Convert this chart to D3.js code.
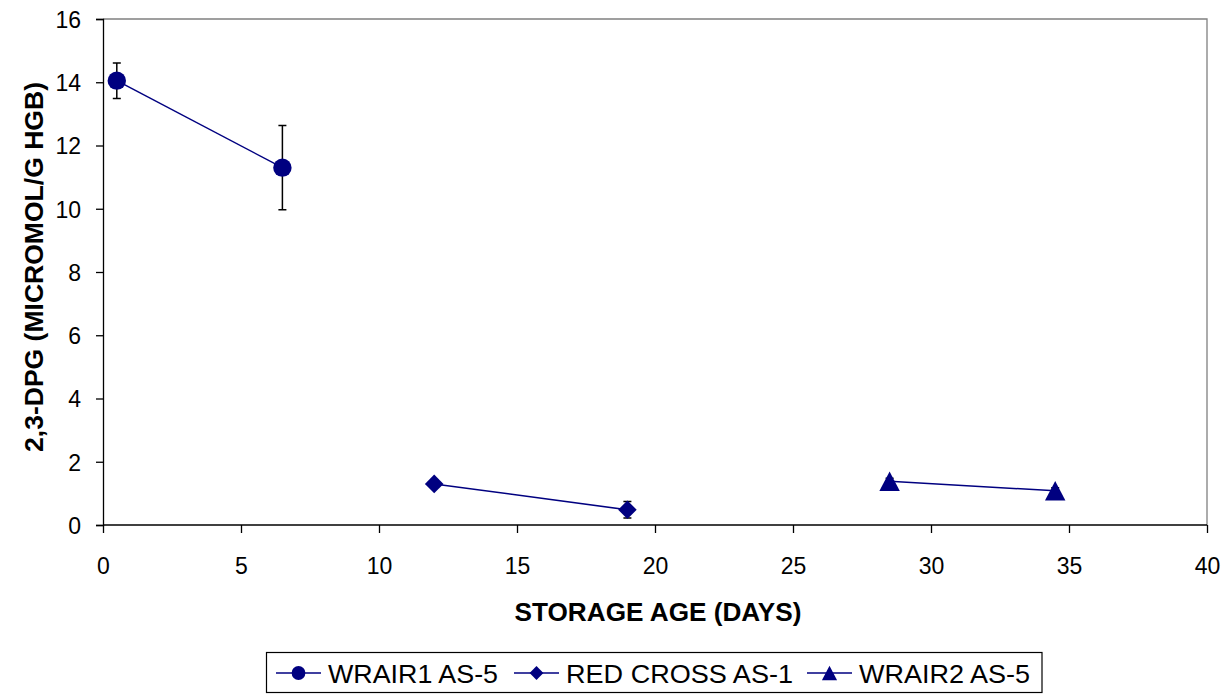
<!DOCTYPE html>
<html><head><meta charset="utf-8">
<script src="https://cdn.jsdelivr.net/npm/d3@7"></script>
<style>body{margin:0;background:#fff;}svg{display:block;}</style>
</head><body>
<script>
const seriesNames = ["WRAIR1 AS-5", "RED CROSS AS-1", "WRAIR2 AS-5"];
const seriesMarkers = ["circle", "diamond", "triangle"];
const wrair1X = [0.5, 6.5];
const wrair1Y = [14.05, 11.3];
const wrair1Err = [0.56, 1.33];
const redCrossX = [12, 19];
const redCrossY = [1.3, 0.48];
const redCrossErr = [0.1, 0.26];
const wrair2X = [28.5, 34.5];
const wrair2Y = [1.38, 1.08];
const wrair2Err = [0.1, 0.1];
const xTicks = [0, 5, 10, 15, 20, 25, 30, 35, 40];
const yTicks = [0, 2, 4, 6, 8, 10, 12, 14, 16];
const xTitle = "STORAGE AGE (DAYS)";
const yTitle = "2,3-DPG (MICROMOL/G HGB)";

const series = [
  {name: seriesNames[0], marker: seriesMarkers[0], x: wrair1X, y: wrair1Y, e: wrair1Err},
  {name: seriesNames[1], marker: seriesMarkers[1], x: redCrossX, y: redCrossY, e: redCrossErr},
  {name: seriesNames[2], marker: seriesMarkers[2], x: wrair2X, y: wrair2Y, e: wrair2Err}
];

const W = 1231, H = 694;
const color = "#000080";
const svg = d3.select("body").append("svg").attr("width", W).attr("height", H);
const L = 103, R = 1207, T = 19, B = 525;
const x = d3.scaleLinear().domain([0, 40]).range([L, R]);
const y = d3.scaleLinear().domain([0, 16]).range([B, T]);

// plot border (top/right gray)
svg.append("path").attr("d", `M${L},${T}H${R}V${B}`).attr("fill","none").attr("stroke","#808080").attr("stroke-width",1.3);

const xAxis = svg.append("g").attr("transform", `translate(0,${B})`)
  .call(d3.axisBottom(x).tickValues(xTicks).tickSize(8).tickPadding(22).tickFormat(d3.format("d")));
const yAxis = svg.append("g").attr("transform", `translate(${L},0)`)
  .call(d3.axisLeft(y).tickValues(yTicks).tickSize(7).tickPadding(15).tickFormat(d3.format("d")));
[xAxis, yAxis].forEach(g => {
  g.selectAll("path,line").attr("stroke","#000").attr("stroke-width",1.3);
  g.selectAll("text").attr("font-family","'Liberation Sans', Arial, sans-serif").attr("font-size",23).attr("fill","#000");
});
xAxis.select(".domain").attr("d", `M${L},0H${R}`);
xAxis.selectAll("text").attr("dy", null).attr("y", 49);
yAxis.selectAll("text").attr("dy", "0.36em");

svg.append("text").attr("x", 658).attr("y", 621).attr("text-anchor","middle")
  .attr("font-family","'Liberation Sans', Arial, sans-serif").attr("font-weight","bold").attr("font-size",25)
  .attr("textLength", 287).attr("lengthAdjust","spacingAndGlyphs").text(xTitle);
svg.append("text").attr("transform", `translate(43,267) rotate(-90)`).attr("text-anchor","middle")
  .attr("font-family","'Liberation Sans', Arial, sans-serif").attr("font-weight","bold").attr("font-size",25)
  .attr("textLength", 370).attr("lengthAdjust","spacingAndGlyphs").text(yTitle);

function markerPath(type, s) {
  if (type === "circle") return d3.symbol(d3.symbolCircle, Math.PI * s * s)();
  if (type === "diamond") return `M0,${-s}L${s},0L0,${s}L${-s},0Z`;
  const h = s * 2.1, w = s * 1.1;
  return `M0,${-h/2}L${w},${h/2}L${-w},${h/2}Z`;
}
const mSize = {circle: 9.2, diamond: 9.3, triangle: 9.3};

const line = d3.line().x(d => x(d[0])).y(d => y(d[1]));
series.forEach(s => {
  const pts = s.x.map((v, i) => [v, s.y[i], s.e[i]]);
  const g = svg.append("g");
  g.append("path").attr("d", line(pts)).attr("fill","none").attr("stroke", color).attr("stroke-width",1.5);
  pts.forEach(p => {
    const cx = x(p[0]), y1 = y(p[1] + p[2]), y2 = y(p[1] - p[2]);
    g.append("path").attr("d", `M${cx},${y1}V${y2}M${cx-4},${y1}H${cx+4}M${cx-4},${y2}H${cx+4}`)
      .attr("stroke","#000").attr("stroke-width",1.5).attr("fill","none");
  });
  g.selectAll(".m").data(pts).enter().append("path")
    .attr("transform", d => `translate(${x(d[0])},${y(d[1])})`)
    .attr("d", markerPath(s.marker, mSize[s.marker])).attr("fill", color);
});

// legend
const lg = svg.append("g");
lg.append("rect").attr("x", 266.5).attr("y", 652.5).attr("width", 775.5).attr("height", 40)
  .attr("fill","#fff").attr("stroke","#000").attr("stroke-width",1.2);
const legX = [276, 514, 807];
const legTextW = [170, 227, 171];
series.forEach((s, i) => {
  const lx = legX[i], ly = 673;
  lg.append("line").attr("x1", lx).attr("x2", lx + 45).attr("y1", ly).attr("y2", ly).attr("stroke", color).attr("stroke-width",1.5);
  lg.append("path").attr("transform", `translate(${lx + 22.5},${ly})`).attr("d", markerPath(s.marker, 6.9)).attr("fill", color);
  lg.append("text").attr("x", lx + 52).attr("y", 682.5).attr("font-family","'Liberation Sans', Arial, sans-serif")
    .attr("font-size",26).attr("textLength", legTextW[i]).attr("lengthAdjust","spacingAndGlyphs").text(s.name);
});
</script>
</body></html>
